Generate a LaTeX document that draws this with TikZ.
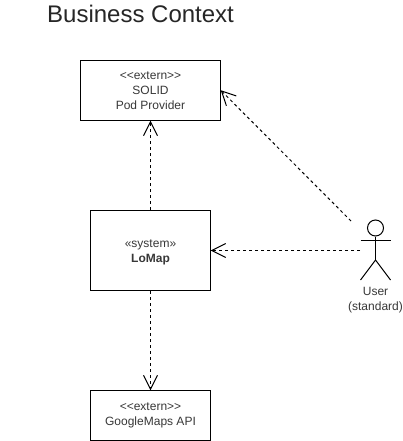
\documentclass[tikz,border=0pt]{standalone}
\usepackage{fontspec}
\setmainfont{Liberation Sans}
\usetikzlibrary{arrows.meta}
\pgfdeclarearrow{
  name=OpenV,
  setup code={\pgfarrowssettipend{0.7pt}\pgfarrowssetlineend{0pt}\pgfarrowssetvisualbackend{-14pt}\pgfarrowssetbackend{-14pt}},
  drawing code={\pgfsetdash{}{0pt}\pgfsetlinewidth{1pt}\pgfpathmoveto{\pgfpoint{-14pt}{7pt}}\pgfpathlineto{\pgfpointorigin}\pgfpathlineto{\pgfpoint{-14pt}{-7pt}}\pgfusepathqstroke}
}
\tikzset{
  sysbox/.style={draw=black,line width=1pt,fill=white,align=center,inner sep=0pt,font=\fontsize{12}{15}\selectfont,text=black!78},
  dep/.style={draw=black,line width=1pt,dash pattern=on 3pt off 3pt,-{OpenV}},
  limb/.style={draw=black,line width=1pt},
  actorlabel/.style={font=\fontsize{12}{15}\selectfont,align=center,text=black!78,inner sep=0pt}
}
\begin{document}
\begin{tikzpicture}[x=1pt,y=-1pt]
\useasboundingbox (0,0) rectangle (403,441);
\node[anchor=base west,inner sep=0pt,font=\fontsize{24}{28}\selectfont,text=black!85] (title) at (47,23) {Business Context};
\node[sysbox,minimum width=140pt,minimum height=60pt] (solid) at (150.5,90.5) {<{}<extern>{}>\\SOLID\\Pod Provider};
\node[sysbox,minimum width=120pt,minimum height=80pt] (lomap) at (150.5,250.5) {\raisebox{-2pt}[\height][\depth]{«system»}\\\raisebox{-2pt}[\height][\depth]{\textbf{LoMap}}};
\node[sysbox,minimum width=120pt,minimum height=50pt] (maps) at (150.5,415.5) {<{}<extern>{}>\\GoogleMaps API};
% actor
\node[circle,draw=black,line width=1pt,minimum size=16pt,inner sep=0pt] (head) at (375.5,228) {};
\coordinate (hip) at (375.5,260);
\coordinate (armL) at (360.5,240);
\coordinate (armR) at (390.5,240);
\coordinate (legL) at (360.5,280);
\coordinate (legR) at (390.5,280);
\draw[limb] (head.south) -- (hip);
\draw[limb] (armL) -- (armR);
\draw[limb] (legL) -- (hip) -- (legR);
\node[actorlabel] (userlabel) at (375.5,300.5) {User\\(standard)};
% connectors
\coordinate (userTop) at (351,221);
\coordinate (userLeft) at (360,250.5);
\coordinate (solidHit) at (221,90.5);
\draw[dep] (userTop) -- (solidHit);
\draw[dep] (userLeft) -- (lomap.east);
\draw[dep] (lomap.north) -- (solid.south);
\draw[dep] (lomap.south) -- (maps.north);
\end{tikzpicture}
\end{document}
